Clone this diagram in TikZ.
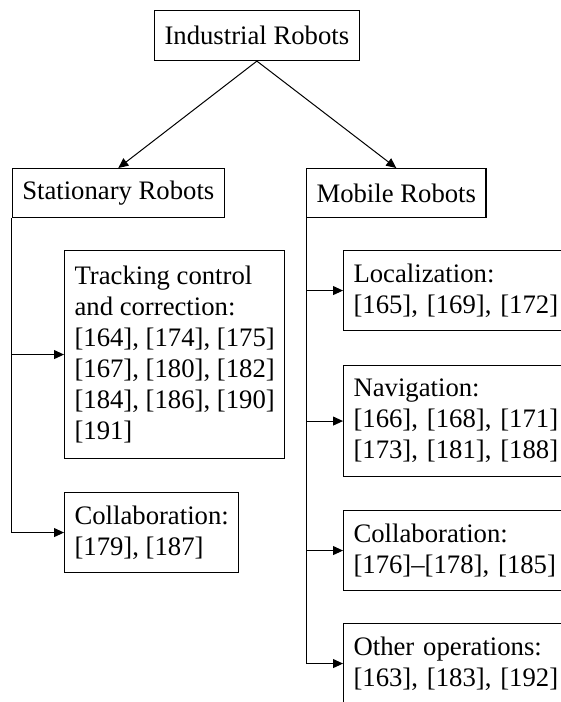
\documentclass[tikz,border=0pt]{standalone}
\usepackage{fontspec}
\setmainfont{Liberation Serif}
\usetikzlibrary{arrows.meta}
\begin{document}
\begin{tikzpicture}[x=1pt,y=-1pt,
  every node/.style={font=\fontsize{26.7}{31}\selectfont},
  box/.style={draw, line width=1.1pt, anchor=north west, inner xsep=10pt, inner ysep=0pt, align=left},
  rbox/.style={box, text width=240pt},
  arr/.style={line width=1pt, -{Triangle[length=10pt,width=9pt]}}]
\useasboundingbox (0,0) rectangle (561,702);
\clip (0,0) rectangle (561,702);
\node[box, align=center, minimum height=50pt] (ind) at (154,10) {Industrial Robots};
\node[box, align=center, minimum height=49pt] (sta) at (11.7,168) {Stationary Robots};
\node[box, align=center, minimum height=49pt] (mob) at (306,168) {Mobile Robots};
\node[box, minimum height=208pt] (track) at (64,250) {Tracking control\\and correction:\\{}[164], [174], [175]\\{}[167], [180], [182]\\{}[184], [186], [190]\\{}[191]};
\node[box, minimum height=80pt] (colL) at (64,492) {Collaboration:\\{}[179], [187]};
\node[rbox, minimum height=80pt] (loc) at (343,250) {Localization:\\{}[165], [169], [172]};
\node[rbox, minimum height=111pt] (nav) at (343,365) {Navigation:\\{}[166], [168], [171]\\{}[173], [181], [188]};
\node[rbox, minimum height=80pt] (colR) at (343,510) {Collaboration:\\{}[176]--[178], [185]};
\node[rbox, minimum height=80pt] (oth) at (343,623) {Other operations:\\{}[163], [183], [192]};
\draw[arr] (ind.south) -- (sta.north);
\draw[arr] (ind.south) -- (mob.north);
\draw[arr] (sta.south west) |- (track.west);
\draw[arr] (sta.south west) |- (colL.west);
\draw[arr] (mob.south west) |- (loc.west);
\draw[arr] (mob.south west) |- (nav.west);
\draw[arr] (mob.south west) |- (colR.west);
\draw[arr] (mob.south west) |- (oth.west);
\end{tikzpicture}
\end{document}
